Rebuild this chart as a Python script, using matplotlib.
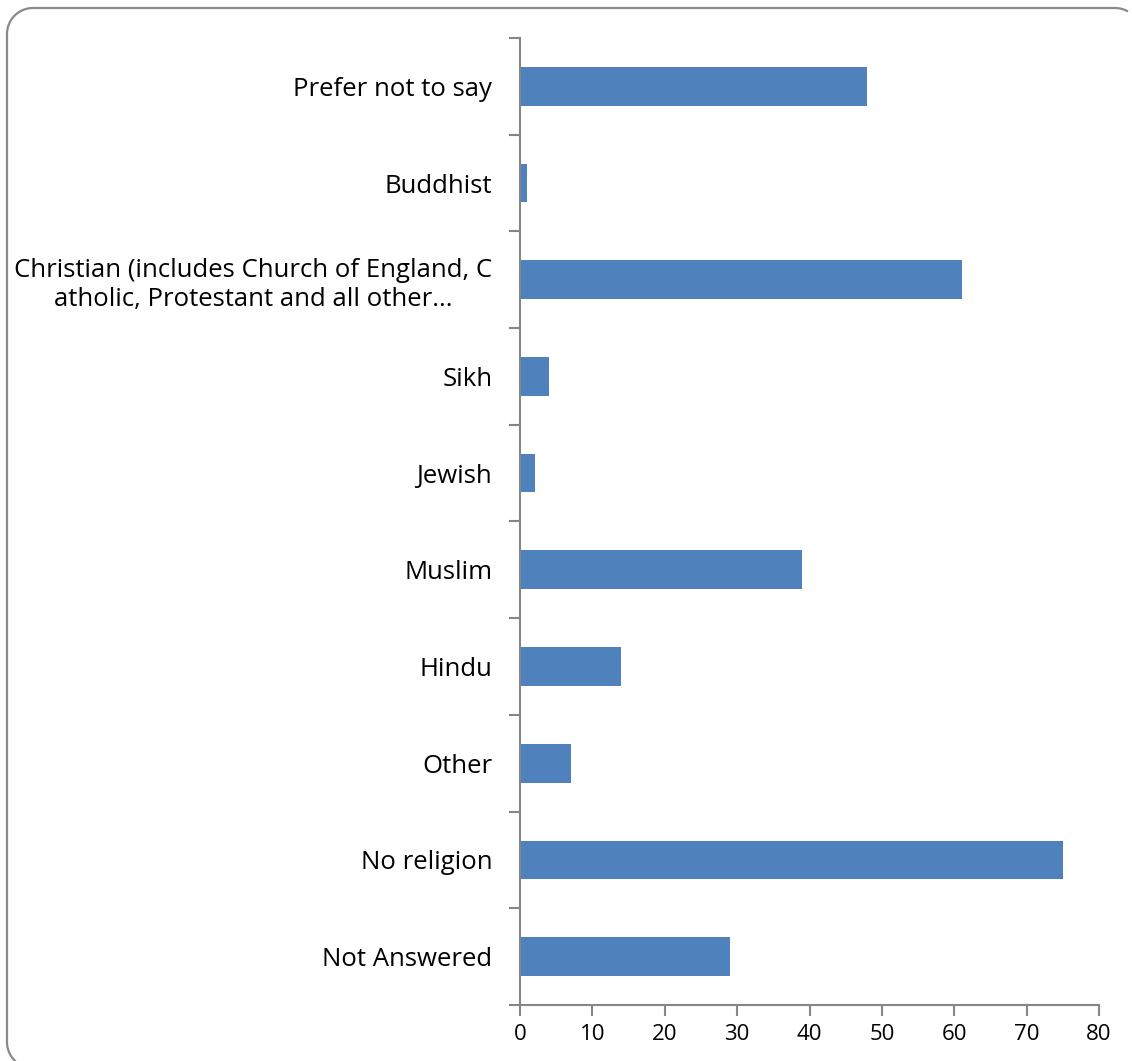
import matplotlib
matplotlib.use('Agg')
import matplotlib.pyplot as plt
import numpy as np
from matplotlib.lines import Line2D
from matplotlib.transforms import Affine2D

plt.rcParams['font.family'] = ['Open Sans', 'DejaVu Sans']

# categories listed bottom to top
categories = ['Not Answered', 'No religion', 'Other', 'Hindu', 'Muslim',
              'Jewish', 'Sikh',
              'Christian (includes Church of England, C\natholic, Protestant and all other...',
              'Buddhist', 'Prefer not to say']
counts = [29, 75, 7, 14, 39, 2, 4, 61, 1, 48]
xticks = [0, 10, 20, 30, 40, 50, 60, 70, 80]

axis_grey = '#868686'
W, H = 1132, 1061

fig = plt.figure(figsize=(W / 100, H / 100), dpi=100)
ax = fig.add_axes([0.4594, 0.0528, 0.5115, 0.9114])

pos = list(range(len(categories)))
ax.barh(pos, counts, height=0.4, color='#4F81BD')

ax.set_xlim(0, 80)
ax.set_ylim(-0.5, len(categories) - 0.5)
ax.set_xticks(xticks)
ax.set_xticklabels([str(t) for t in xticks], fontsize=16)
ax.set_yticks(pos)
ax.set_yticklabels(categories, fontsize=18.5, multialignment='center')

# category ticks sit between the bars
ax.set_yticks([p - 0.5 for p in pos] + [len(pos) - 0.5], minor=True)
ax.tick_params(axis='y', which='major', length=0, pad=20)
ax.tick_params(axis='y', which='minor', length=8, width=1.5, color=axis_grey)
ax.tick_params(axis='x', length=8, width=1.5, color=axis_grey, pad=6)

for side in ['top', 'right']:
    ax.spines[side].set_visible(False)
for side in ['left', 'bottom']:
    ax.spines[side].set_color(axis_grey)
    ax.spines[side].set_linewidth(1.5)

# rounded chart border in pixel units; it runs off the right and bottom,
# so it is built as an open line kept inside the canvas
r = 26
left, top = 7, H - 8


def arc(cx, cy, a0, a1):
    t = np.radians(np.linspace(a0, a1, 30))
    return cx + r * np.cos(t), cy + r * np.sin(t)


bl_x, bl_y = arc(left + r, 19, 228, 180)
tl_x, tl_y = arc(left + r, top - r, 180, 90)
tr_x, tr_y = arc(1141 - r, top - r, 90, 60)
fx = np.concatenate([bl_x, tl_x, tr_x])
fy = np.concatenate([bl_y, tl_y, tr_y])
px = Affine2D().scale(1 / W, 1 / H) + fig.transFigure
fig.add_artist(Line2D(fx, fy, transform=px, color='#8a8a8a', linewidth=1.6,
                      solid_capstyle='butt'))

fig.savefig('out.png', dpi=100)
